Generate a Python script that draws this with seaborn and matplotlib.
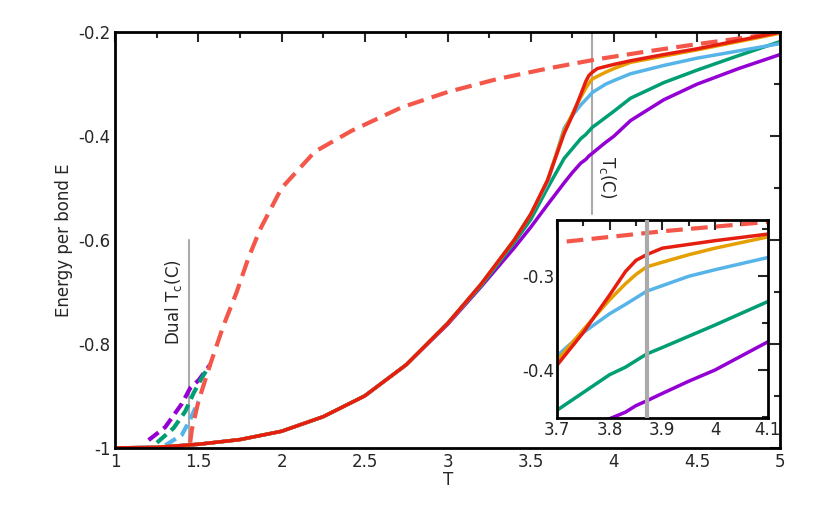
import matplotlib
matplotlib.use("Agg")
import matplotlib.pyplot as plt
import seaborn as sns
from matplotlib.ticker import AutoMinorLocator

sns.set_style("white")
plt.rcParams.update({"font.family": "DejaVu Sans", "font.size": 12})

# main solid curves (temperature, energy)
T_main = [1.0, 1.25, 1.5, 1.75, 2.0, 2.25, 2.5, 2.75, 3.0, 3.2, 3.4, 3.5, 3.6, 3.7, 3.75, 3.8,
          3.83, 3.85, 3.87, 3.9, 3.95, 4.0, 4.1, 4.3, 4.5, 4.75, 5.0]
E_low = [-1.0, -0.999, -0.993, -0.984, -0.968, -0.94, -0.9, -0.84, -0.76]
E_red = E_low + [-0.685, -0.6, -0.55, -0.485, -0.395, -0.36, -0.32, -0.295, -0.283, -0.277, -0.27,
                 -0.266, -0.262, -0.255, -0.243, -0.232, -0.216, -0.2]
E_orange = E_low + [-0.685, -0.6, -0.55, -0.485, -0.39, -0.357, -0.325, -0.308, -0.298, -0.29, -0.285,
                    -0.277, -0.27, -0.258, -0.246, -0.234, -0.218, -0.202]
E_blue = E_low + [-0.685, -0.6, -0.55, -0.49, -0.385, -0.36, -0.34, -0.33, -0.323, -0.316, -0.31,
                  -0.3, -0.293, -0.28, -0.264, -0.25, -0.236, -0.222]
E_green = E_low + [-0.688, -0.605, -0.56, -0.5, -0.443, -0.424, -0.405, -0.397, -0.39, -0.383, -0.376,
                   -0.364, -0.352, -0.327, -0.297, -0.273, -0.245, -0.218]
E_purple = E_low[:-1] + [-0.762, -0.69, -0.615, -0.575, -0.532, -0.49, -0.47, -0.452, -0.445, -0.438,
                         -0.433, -0.425, -0.412, -0.4, -0.37, -0.33, -0.3, -0.27, -0.243]

# dual (dashed) curves
T_dual_red = [1.45, 1.46, 1.5, 1.57, 1.65, 1.73, 1.8, 1.87, 2.0, 2.2, 2.42, 2.72, 3.0, 3.3, 3.6, 3.9,
              4.2, 4.5, 4.8, 5.0]
E_dual_red = [-0.99, -0.965, -0.91, -0.84, -0.765, -0.7, -0.635, -0.58, -0.5, -0.43, -0.39, -0.345,
              -0.315, -0.29, -0.27, -0.252, -0.237, -0.223, -0.21, -0.2]
T_dual_purple = [1.2, 1.3, 1.4, 1.45, 1.5, 1.57]
E_dual_purple = [-0.985, -0.96, -0.915, -0.885, -0.87, -0.84]
T_dual_green = [1.25, 1.35, 1.42, 1.47, 1.52, 1.57]
E_dual_green = [-0.99, -0.962, -0.93, -0.895, -0.865, -0.84]
T_dual_blue = [1.3, 1.4, 1.45, 1.5]
E_dual_blue = [-0.995, -0.975, -0.945, -0.91]

Tc = 3.87
Tc_dual = 1.44

C_PURPLE, C_GREEN, C_BLUE, C_ORANGE, C_RED, C_DRED = "#9400d3", "#009e73", "#56b4e9", "#e69f00", "#e51e10", "#f4574a"

fig = plt.figure(figsize=(8.3, 5.19), dpi=100)
ax = fig.add_axes([0.139, 0.137, 0.801, 0.801])
inset = fig.add_axes([0.671, 0.195, 0.254, 0.381])


def draw(a):
    for T, E, c in [(T_dual_purple, E_dual_purple, C_PURPLE), (T_dual_green, E_dual_green, C_GREEN),
                    (T_dual_blue, E_dual_blue, C_BLUE)]:
        sns.lineplot(x=T, y=E, color=c, lw=3, ls=(0, (3, 1.5)), sort=False, ax=a)
    sns.lineplot(x=T_dual_red, y=E_dual_red, color=C_DRED, lw=3, ls=(0, (4, 2)), sort=False, ax=a)
    for E, c in [(E_purple, C_PURPLE), (E_green, C_GREEN), (E_blue, C_BLUE), (E_orange, C_ORANGE)]:
        sns.lineplot(x=T_main, y=E, color=c, lw=2.5, sort=False, ax=a)
    sns.lineplot(x=T_main, y=E_red, color=C_RED, lw=2.5, sort=False, ax=a)


draw(ax)
ax.plot([Tc_dual, Tc_dual], [-1, -0.6], color="#aaaaaa", lw=1.5, zorder=0)
ax.plot([Tc, Tc], [-0.2, -0.55], color="#aaaaaa", lw=1.5, zorder=0)
ax.text(Tc_dual - 0.03, -0.72, "Dual T$_\\mathregular{c}$(C)", rotation=90, ha="right", va="center", fontsize=12)
ax.text(Tc + 0.03, -0.48, "T$_\\mathregular{c}$(C)", rotation=-90, ha="left", va="center", fontsize=12)

ax.set_xlim(1, 5)
ax.set_ylim(-1, -0.2)
ax.set_xticks([1, 1.5, 2, 2.5, 3, 3.5, 4, 4.5, 5])
ax.set_xticklabels(["1", "1.5", "2", "2.5", "3", "3.5", "4", "4.5", "5"])
ax.set_yticks([-1, -0.8, -0.6, -0.4, -0.2])
ax.set_yticklabels(["-1", "-0.8", "-0.6", "-0.4", "-0.2"])
ax.set_xlabel("T", labelpad=0)
ax.set_ylabel("Energy per bond E")

draw(inset)
inset.axvline(Tc, color="#aaaaaa", lw=3, zorder=5)
inset.set_xlim(3.7, 4.1)
inset.set_ylim(-0.451, -0.24)
inset.set_xticks([3.7, 3.8, 3.9, 4.0, 4.1])
inset.set_xticklabels(["3.7", "3.8", "3.9", "4", "4.1"])
inset.set_yticks([-0.4, -0.3])
inset.set_yticklabels(["-0.4", "-0.3"])

for a in (ax, inset):
    a.xaxis.set_minor_locator(AutoMinorLocator(2))
    a.yaxis.set_minor_locator(AutoMinorLocator(2))
    a.tick_params(which="both", direction="in", top=True, right=True, width=1.5)
    a.tick_params(which="major", length=7)
    a.tick_params(which="minor", length=4)
    for s in a.spines.values():
        s.set_linewidth(2)
        s.set_color("black")
    a.grid(False)
inset.tick_params(labelsize=12, pad=2)

fig.savefig("out.png")
